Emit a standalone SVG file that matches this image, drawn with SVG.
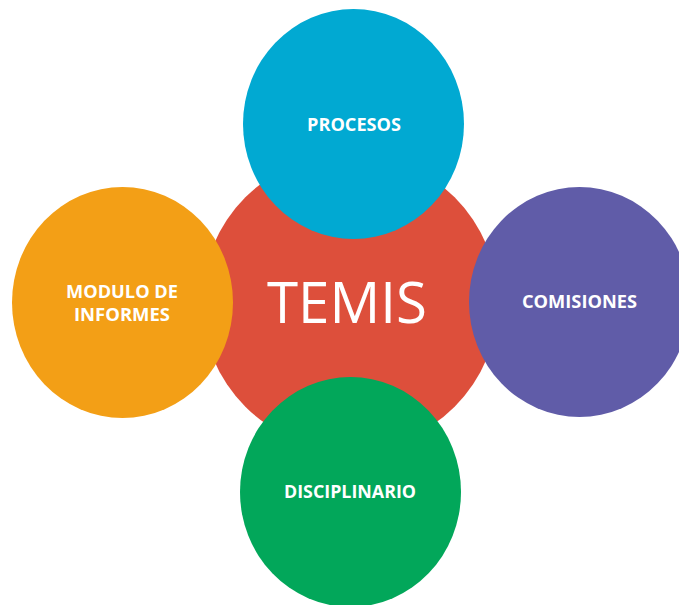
<svg xmlns="http://www.w3.org/2000/svg" width="679" height="605" viewBox="0 0 679 605">
<style>
.lbl{font-family:"Open Sans","Liberation Sans",sans-serif;font-weight:bold;font-size:17px;fill:#fff;text-anchor:middle}
.big{font-family:"Open Sans","Liberation Sans",sans-serif;font-size:57px;fill:#fff;text-anchor:middle}
</style>
<rect width="679" height="605" fill="#fff"/>
<g id="connectors"/>
<g id="temis">
<circle cx="350" cy="302" r="148" fill="#DD4F3B"/>
<text class="big" x="347" y="323" textLength="160" lengthAdjust="spacingAndGlyphs">TEMIS</text>
</g>
<g id="procesos">
<ellipse cx="353.5" cy="124" rx="110.5" ry="115" fill="#01A9D2"/>
<text class="lbl" x="354" y="131" textLength="94" lengthAdjust="spacingAndGlyphs">PROCESOS</text>
</g>
<g id="modulo">
<ellipse cx="122.5" cy="302.5" rx="110.5" ry="115.5" fill="#F39F16"/>
<text class="lbl" x="122" y="298" textLength="112" lengthAdjust="spacingAndGlyphs">MODULO DE</text>
<text class="lbl" x="122" y="321" textLength="96" lengthAdjust="spacingAndGlyphs">INFORMES</text>
</g>
<g id="comisiones">
<ellipse cx="579.5" cy="302" rx="110.5" ry="115" fill="#605CA8"/>
<text class="lbl" x="579.5" y="308" textLength="115" lengthAdjust="spacingAndGlyphs">COMISIONES</text>
</g>
<g id="disciplinario">
<ellipse cx="350.5" cy="492" rx="110.5" ry="115" fill="#02A75A"/>
<text class="lbl" x="350" y="498" textLength="132" lengthAdjust="spacingAndGlyphs">DISCIPLINARIO</text>
</g>
</svg>
